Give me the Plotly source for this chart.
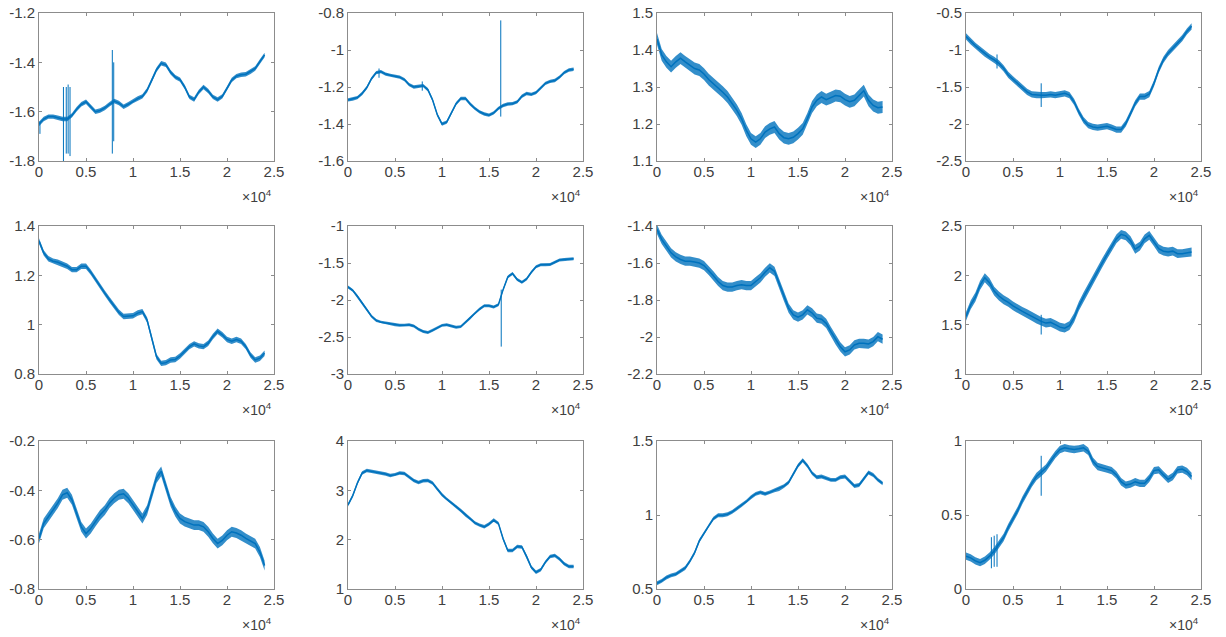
import plotly.graph_objects as go

# ---------------- data ----------------
SAMPLES = list(range(0, 24001, 500))  # sample index of each reading

P1 = [-1.65, -1.63, -1.62, -1.62, -1.625, -1.63, -1.63, -1.615, -1.59, -1.57,
      -1.56, -1.58, -1.60, -1.595, -1.585, -1.57, -1.557, -1.565, -1.58, -1.57,
      -1.557, -1.547, -1.538, -1.513, -1.472, -1.43, -1.404, -1.41, -1.44, -1.46,
      -1.47, -1.50, -1.54, -1.551, -1.52, -1.50, -1.516, -1.54, -1.551, -1.538,
      -1.506, -1.472, -1.456, -1.45, -1.448, -1.438, -1.425, -1.397, -1.37]
P2 = [-1.27, -1.265, -1.257, -1.235, -1.203, -1.155, -1.122, -1.117, -1.13, -1.137,
      -1.14, -1.147, -1.16, -1.187, -1.20, -1.197, -1.193, -1.215, -1.27, -1.35,
      -1.40, -1.39, -1.34, -1.29, -1.262, -1.262, -1.292, -1.316, -1.334, -1.346,
      -1.352, -1.34, -1.316, -1.30, -1.292, -1.29, -1.28, -1.25, -1.235, -1.24,
      -1.23, -1.207, -1.18, -1.17, -1.165, -1.147, -1.122, -1.108, -1.104]
P3 = [1.43, 1.387, 1.368, 1.355, 1.368, 1.378, 1.368, 1.36, 1.35, 1.346,
      1.335, 1.32, 1.309, 1.298, 1.286, 1.273, 1.255, 1.237, 1.214, 1.183,
      1.16, 1.151, 1.16, 1.178, 1.187, 1.192, 1.174, 1.163, 1.16, 1.164,
      1.174, 1.187, 1.214, 1.246, 1.264, 1.273, 1.266, 1.271, 1.277, 1.275,
      1.266, 1.26, 1.264, 1.277, 1.29, 1.264, 1.25, 1.244, 1.246]
P4 = [-0.817, -0.885, -0.943, -0.995, -1.05, -1.097, -1.133, -1.18, -1.247, -1.337,
      -1.396, -1.45, -1.506, -1.565, -1.60, -1.61, -1.61, -1.61, -1.60, -1.61,
      -1.60, -1.586, -1.61, -1.70, -1.836, -1.948, -2.016, -2.04, -2.05, -2.04,
      -2.03, -2.05, -2.075, -2.075, -1.993, -1.86, -1.72, -1.63, -1.63, -1.595,
      -1.45, -1.27, -1.133, -1.043, -0.975, -0.907, -0.84, -0.75, -0.68]
P5 = [1.339, 1.291, 1.267, 1.257, 1.253, 1.244, 1.237, 1.223, 1.223, 1.237,
      1.237, 1.213, 1.183, 1.158, 1.128, 1.101, 1.074, 1.05, 1.033, 1.036,
      1.036, 1.047, 1.053, 1.019, 0.94, 0.87, 0.843, 0.846, 0.857, 0.859,
      0.873, 0.89, 0.911, 0.922, 0.914, 0.911, 0.925, 0.952, 0.973, 0.959,
      0.94, 0.933, 0.94, 0.933, 0.911, 0.877, 0.857, 0.864, 0.884]
P6 = [-1.824, -1.87, -1.95, -2.04, -2.13, -2.22, -2.276, -2.30, -2.31, -2.32,
      -2.335, -2.34, -2.34, -2.335, -2.35, -2.394, -2.425, -2.44, -2.41, -2.38,
      -2.343, -2.335, -2.35, -2.367, -2.36, -2.303, -2.244, -2.176, -2.122, -2.077,
      -2.077, -2.095, -2.063, -1.86, -1.688, -1.643, -1.724, -1.76, -1.715, -1.625,
      -1.552, -1.525, -1.525, -1.52, -1.49, -1.46, -1.452, -1.452, -1.443]
P7 = [-1.418, -1.472, -1.509, -1.545, -1.567, -1.581, -1.59, -1.59, -1.595, -1.60,
      -1.614, -1.64, -1.669, -1.70, -1.722, -1.73, -1.73, -1.722, -1.717, -1.722,
      -1.722, -1.70, -1.68, -1.65, -1.626, -1.645, -1.708, -1.78, -1.844, -1.88,
      -1.893, -1.88, -1.853, -1.87, -1.898, -1.904, -1.926, -1.971, -2.016, -2.053,
      -2.08, -2.07, -2.043, -2.034, -2.034, -2.038, -2.025, -1.998, -2.012]
P8 = [1.584, 1.70, 1.78, 1.90, 1.976, 1.925, 1.84, 1.79, 1.753, 1.726,
      1.69, 1.66, 1.634, 1.61, 1.584, 1.556, 1.533, 1.516, 1.523, 1.50,
      1.475, 1.465, 1.49, 1.57, 1.686, 1.78, 1.87, 1.95, 2.04, 2.127,
      2.21, 2.296, 2.37, 2.415, 2.40, 2.35, 2.265, 2.296, 2.37, 2.405,
      2.34, 2.27, 2.245, 2.236, 2.245, 2.22, 2.22, 2.23, 2.236]
P9 = [-0.595, -0.534, -0.507, -0.48, -0.452, -0.418, -0.41, -0.438, -0.493, -0.548,
      -0.575, -0.555, -0.527, -0.50, -0.48, -0.452, -0.432, -0.418, -0.414, -0.432,
      -0.459, -0.486, -0.514, -0.48, -0.418, -0.35, -0.323, -0.384, -0.446, -0.486,
      -0.514, -0.527, -0.534, -0.541, -0.541, -0.548, -0.568, -0.595, -0.616, -0.603,
      -0.582, -0.568, -0.573, -0.582, -0.595, -0.605, -0.616, -0.65, -0.705]
P10 = [2.705, 2.89, 3.148, 3.35, 3.40, 3.386, 3.366, 3.352, 3.33, 3.30,
       3.318, 3.352, 3.34, 3.27, 3.20, 3.16, 3.195, 3.20, 3.148, 3.025,
       2.91, 2.82, 2.75, 2.67, 2.59, 2.50, 2.43, 2.34, 2.295, 2.26,
       2.316, 2.397, 2.33, 2.02, 1.78, 1.78, 1.86, 1.852, 1.66, 1.44,
       1.34, 1.39, 1.545, 1.66, 1.68, 1.61, 1.51, 1.457, 1.457]
P11 = [0.539, 0.555, 0.578, 0.592, 0.60, 0.619, 0.642, 0.688, 0.745, 0.825,
       0.876, 0.93, 0.975, 0.998, 0.998, 1.005, 1.021, 1.044, 1.067, 1.09,
       1.12, 1.143, 1.153, 1.143, 1.153, 1.167, 1.176, 1.195, 1.22, 1.278,
       1.333, 1.37, 1.333, 1.283, 1.255, 1.26, 1.248, 1.237, 1.237, 1.255,
       1.26, 1.225, 1.196, 1.203, 1.248, 1.287, 1.27, 1.237, 1.214]
P12 = [0.222, 0.21, 0.19, 0.178, 0.194, 0.222, 0.257, 0.303, 0.348, 0.416,
       0.474, 0.531, 0.60, 0.657, 0.714, 0.76, 0.787, 0.817, 0.863, 0.908,
       0.943, 0.954, 0.947, 0.943, 0.947, 0.954, 0.931, 0.863, 0.828, 0.817,
       0.81, 0.80, 0.771, 0.725, 0.702, 0.709, 0.725, 0.714, 0.714, 0.748,
       0.80, 0.805, 0.771, 0.741, 0.76, 0.805, 0.81, 0.794, 0.76]

SERIES = [P1, P2, P3, P4, P5, P6, P7, P8, P9, P10, P11, P12]

# half thickness of the noise band, per panel (data units)
NOISE = [0.009, 0.009, 0.016, 0.042, 0.011, 0.020, 0.025, 0.045, 0.020, 0.035, 0.013, 0.025]

# isolated spikes per panel: (sample, low, high)
SPIKES = [
    [(100, -1.69, -1.64), (2600, -1.80, -1.50), (2900, -1.77, -1.50), (3100, -1.77, -1.49),
     (3300, -1.78, -1.50), (7800, -1.77, -1.35), (7950, -1.72, -1.40)],
    [(3300, -1.15, -1.10), (7900, -1.22, -1.17), (16250, -1.36, -0.84)],
    [],
    [(3300, -1.25, -1.06), (8000, -1.77, -1.45)],
    [],
    [(16300, -2.63, -1.86)],
    [],
    [(8000, 1.40, 1.60)],
    [],
    [],
    [],
    [(2700, 0.14, 0.35), (3000, 0.15, 0.36), (3300, 0.15, 0.37), (8000, 0.63, 0.90)],
]

Y_RANGES = [(-1.8, -1.2), (-1.6, -0.8), (1.1, 1.5), (-2.5, -0.5),
            (0.8, 1.4), (-3, -1), (-2.2, -1.4), (1, 2.5),
            (-0.8, -0.2), (1, 4), (0.5, 1.5), (0, 1)]
Y_TICKS = [[-1.8, -1.6, -1.4, -1.2], [-1.6, -1.4, -1.2, -1, -0.8], [1.1, 1.2, 1.3, 1.4, 1.5],
           [-2.5, -2, -1.5, -1, -0.5], [0.8, 1, 1.2, 1.4], [-3, -2.5, -2, -1.5, -1],
           [-2.2, -2, -1.8, -1.6, -1.4], [1, 1.5, 2, 2.5], [-0.8, -0.6, -0.4, -0.2],
           [1, 2, 3, 4], [0.5, 1, 1.5], [0, 0.5, 1]]

X_TICK_VALS = [0, 5000, 10000, 15000, 20000, 25000]
X_TICK_TEXT = ["0", "0.5", "1", "1.5", "2", "2.5"]
X_EXP_LABEL = "×10<sup>4</sup>"

# ---------------- layout geometry ----------------
# the page body puts the figure 8px from the window's top-left corner
W, H = 1218, 629
COL_LEFT = [31, 340, 649, 958]
AX_W = 235
ROW_TOP = [5, 218, 433]
AX_H = 148

BLUE = "#0072BD"
AX_COLOR = "#8c8c8c"
TXT = "#404040"
FONT = "Liberation Sans, Arial, Helvetica, sans-serif"
FSIZE = 15


def fmt(v):
    return ("%g" % v)


fig = go.Figure()
layout = dict(width=W, height=H, margin=dict(l=0, r=0, t=0, b=0, autoexpand=False),
              paper_bgcolor="white", plot_bgcolor="white", showlegend=False,
              font=dict(family=FONT, size=FSIZE, color=TXT))
annotations = []

for i, ys in enumerate(SERIES):
    r, c = divmod(i, 4)
    n = i + 1
    xa = "x" if n == 1 else f"x{n}"
    ya = "y" if n == 1 else f"y{n}"
    upper = [v + NOISE[i] for v in ys]
    lower = [v - NOISE[i] for v in ys]
    fig.add_trace(go.Scatter(x=SAMPLES + SAMPLES[::-1], y=upper + lower[::-1],
                             fill="toself", fillcolor="rgba(0,114,189,0.8)",
                             line=dict(width=0), mode="lines", hoverinfo="skip",
                             xaxis=xa, yaxis=ya))
    fig.add_trace(go.Scatter(x=SAMPLES, y=ys, mode="lines",
                             line=dict(color=BLUE, width=1.5),
                             xaxis=xa, yaxis=ya))
    if SPIKES[i]:
        sx, sy = [], []
        for s, lo, hi in SPIKES[i]:
            sx += [s, s, None]
            sy += [lo, hi, None]
        fig.add_trace(go.Scatter(x=sx, y=sy, mode="lines",
                                 line=dict(color=BLUE, width=1),
                                 xaxis=xa, yaxis=ya))

    x0 = COL_LEFT[c] / W
    x1 = (COL_LEFT[c] + AX_W) / W
    y1 = 1 - ROW_TOP[r] / H
    y0 = 1 - (ROW_TOP[r] + AX_H) / H
    axis_common = dict(showline=True, linecolor=AX_COLOR, linewidth=1, mirror="ticks",
                       ticks="inside", ticklen=3, tickcolor=AX_COLOR, showgrid=False,
                       zeroline=False, automargin=False, ticklabeloverflow="allow",
                       tickfont=dict(family=FONT, size=FSIZE, color=TXT))
    layout["xaxis" if n == 1 else f"xaxis{n}"] = dict(
        domain=[x0, x1], range=[0, 25000], tickmode="array",
        tickvals=X_TICK_VALS, ticktext=X_TICK_TEXT, anchor=ya,
        ticklabelstandoff=-3, **axis_common)
    layout["yaxis" if n == 1 else f"yaxis{n}"] = dict(
        domain=[y0, y1], range=list(Y_RANGES[i]), tickmode="array",
        tickvals=Y_TICKS[i], ticktext=[fmt(v) for v in Y_TICKS[i]], anchor=xa,
        **axis_common)
    annotations.append(dict(text=X_EXP_LABEL, xref=f"{xa} domain", yref=f"{ya} domain",
                            x=1, y=0, xanchor="right", yanchor="middle", yshift=-35,
                            showarrow=False, font=dict(family=FONT, size=FSIZE - 1, color=TXT)))

layout["annotations"] = annotations
fig.update_layout(**layout)
fig.write_html("out.html")
